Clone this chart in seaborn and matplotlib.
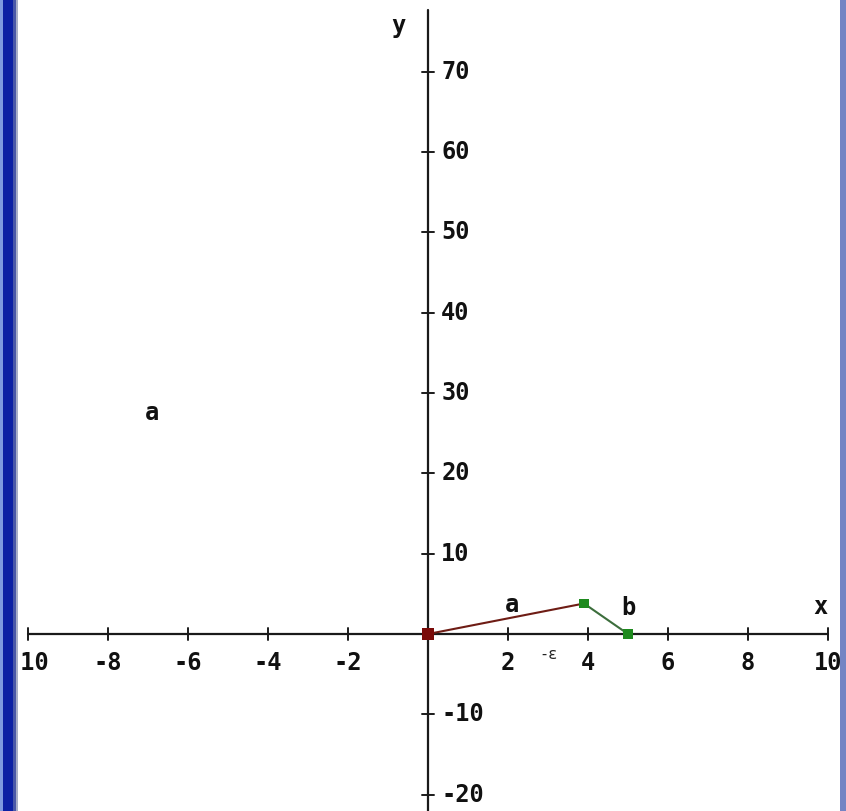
import matplotlib
matplotlib.use("Agg")
import matplotlib.pyplot as plt
import seaborn as sns
import pandas as pd
from matplotlib.patches import Rectangle

sns.set_theme(style="white")
plt.rcParams['font.family'] = ['DejaVu Sans Mono', 'DejaVu Sans']

# vertices of the polyline
px = [0.0, 3.9, 5.0]
py = [0.0, 3.8, 0.0]
point_names = ["P0", "P1", "P2"]
point_colors = ["#7a0a08", "#1e8a1e", "#1e8a1e"]
point_sizes = [70, 50, 50]

# segments a (P0 -> P1) and b (P1 -> P2)
seg_names = ["a", "b"]
seg_colors = ["#6e1c14", "#3c6e3c"]

x_ticks = [-10, -8, -6, -4, -2, 2, 4, 6, 8, 10]
y_ticks = [-20, -10, 10, 20, 30, 40, 50, 60, 70]

fig = plt.figure(figsize=(8.46, 8.11), dpi=100)
fig.patch.set_facecolor("white")
ax = fig.add_axes([0, 0, 1, 1])
ax.set_xlim(-10.7, 10.45)
ax.set_ylim(-22.04, 78.95)
ax.axis("off")

axis_col = "#1a1a1a"
# coordinate axes
ax.plot([-10, 10], [0, 0], color=axis_col, lw=1.6, zorder=2)
ax.plot([0, 0], [-22.04, 77.7], color=axis_col, lw=1.6, zorder=2)

label_kw = dict(fontsize=17, fontweight="bold", color="#111111",
                family=["DejaVu Sans Mono", "DejaVu Sans"])
for t in x_ticks:
    ax.plot([t, t], [-0.7, 0.7], color=axis_col, lw=1.4, zorder=2)
    ax.text(t, -3.6, str(t), ha="center", va="center", **label_kw)
for t in y_ticks:
    ax.plot([-0.14, 0.14], [t, t], color=axis_col, lw=1.4, zorder=2)
    ax.text(0.33, t, str(t), ha="left", va="center", **label_kw)

ax.text(9.8, 3.4, "x", ha="center", va="center", **label_kw)
ax.text(-0.75, 75.7, "y", ha="center", va="center", **label_kw)

# segments
seg_df = pd.DataFrame({
    "x": [px[0], px[1], px[1], px[2]],
    "y": [py[0], py[1], py[1], py[2]],
    "seg": [seg_names[0], seg_names[0], seg_names[1], seg_names[1]],
})
sns.lineplot(data=seg_df, x="x", y="y", hue="seg", palette=seg_colors,
             sort=False, estimator=None, lw=1.5, legend=False, ax=ax, zorder=3)

# vertices
pt_df = pd.DataFrame({"x": px, "y": py, "name": point_names, "sz": point_sizes})
sns.scatterplot(data=pt_df, x="x", y="y", hue="name", palette=point_colors,
                size="sz", sizes=(min(point_sizes), max(point_sizes)),
                marker="s", edgecolor="none", legend=False, ax=ax, zorder=4)

# segment labels
ax.text(2.1, 3.6, seg_names[0], ha="center", va="center", **label_kw)
ax.text(5.0, 3.3, seg_names[1], ha="center", va="center", **label_kw)
ax.text(-6.9, 27.5, "a", ha="center", va="center", **label_kw)
ax.text(3.02, -2.6, "-ε", ha="center", va="center", fontsize=11,
        color="#222222", family=["DejaVu Sans Mono", "DejaVu Sans"])

# window frame edges
frame = [
    (0, 3, "#7e9ae0"),
    (3, 10, "#0c20a4"),
    (13, 3, "#4a58a8"),
    (16, 2, "#a8aec8"),
]
for x0, w, c in frame:
    fig.add_artist(Rectangle((x0 / 846, 0), w / 846, 1, transform=fig.transFigure,
                             facecolor=c, edgecolor="none", zorder=10))
fig.add_artist(Rectangle((840 / 846, 0), 6 / 846, 1, transform=fig.transFigure,
                         facecolor="#7484c4", edgecolor="none", zorder=10))

fig.savefig("out.png", dpi=100, facecolor="white")
